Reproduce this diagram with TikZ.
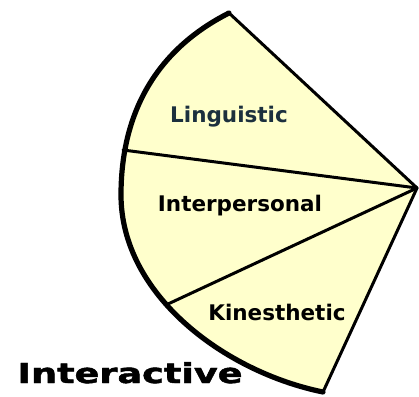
\documentclass[tikz,border=0pt]{standalone}
\usepackage{fontspec}
\newfontfamily\labelfont{DejaVu Sans}
\newfontfamily\titlefont{DejaVu Sans}[BoldFeatures={FakeBold=1.5}]
\usepackage{tikz}
\definecolor{paleyellow}{RGB}{255,255,204}
\definecolor{slateink}{RGB}{28,48,62}

\begin{document}
\begin{tikzpicture}[
    x=1pt, y=-1pt,
    sector/.style={fill=paleyellow},
    rim/.style={line width=5.2pt, line cap=round, line join=round},
    spoke/.style={line width=3pt, line cap=round},
    seg/.style={font=\labelfont\bfseries\fontsize{21.5}{21.5}\selectfont, anchor=base, inner sep=0pt},
    title/.style={font=\titlefont\bfseries\fontsize{27.5}{27.5}\selectfont, anchor=base, inner sep=0pt}
]
\useasboundingbox (0,0) rectangle (419,396);

\coordinate (hub) at (417,188);
\coordinate (top) at (229,13);
\coordinate (left) at (121,195);
\coordinate (cut1) at (123,150);
\coordinate (cut2) at (168,304);
\coordinate (bottom) at (323,392);

\fill[sector] (hub) -- (top) .. controls (156,50) and (121,113) .. (left)
    .. controls (121,295) and (225,372) .. (bottom) -- cycle;

\draw[rim] (top) .. controls (156,50) and (121,113) .. (left)
    .. controls (121,295) and (225,372) .. (bottom);

\draw[spoke] (hub) -- (top);
\draw[spoke] (hub) -- (cut1);
\draw[spoke] (hub) -- (cut2);
\draw[spoke] (hub) -- (bottom);

\node[seg, text=slateink] (ling) at (229,122) {Linguistic};
\node[seg] (inter) at (240,211) {Interpersonal};
\node[seg] (kin) at (277,320) {Kinesthetic};
\node[title] (interactive) at (130,383) {\scalebox{1.33}[1]{Interactive}};
\end{tikzpicture}
\end{document}
